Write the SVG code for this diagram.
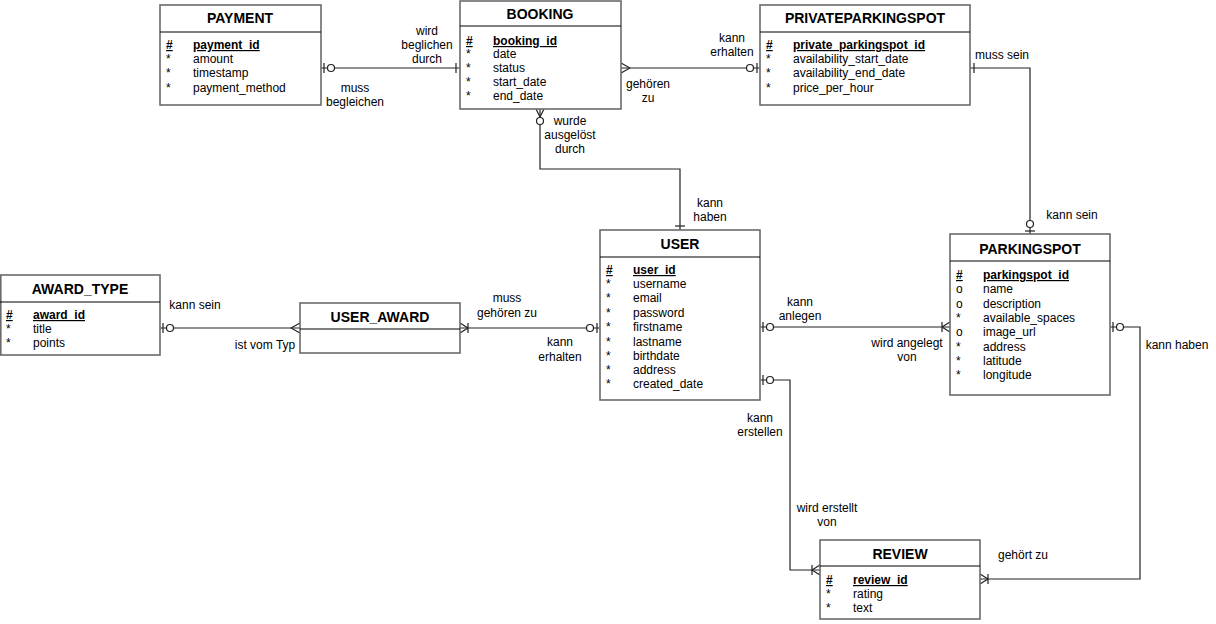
<svg xmlns="http://www.w3.org/2000/svg" width="1216" height="624" viewBox="0 0 1216 624">
<style>
.box{fill:#fff;stroke:#6b6b6b;stroke-width:1.6}
.sep{stroke:#000;stroke-width:1}
.title{font-family:"Liberation Sans",Arial,sans-serif;font-size:14px;font-weight:bold;text-anchor:middle;fill:#000}
.attr{font-family:"Liberation Sans",Arial,sans-serif;font-size:12px;fill:#000}
.pk{font-weight:bold;text-decoration:underline}
.lbl{font-family:"Liberation Sans",Arial,sans-serif;font-size:12px;text-anchor:middle;fill:#000}
.conn{fill:none;stroke:#222;stroke-width:1.2}
.mk{fill:none;stroke:#222;stroke-width:1.2}
.mkc{fill:#fff;stroke:#222;stroke-width:1.2}
</style>
<defs>
<marker id="oneOpt" markerUnits="userSpaceOnUse" markerWidth="1" markerHeight="1" refX="0" refY="0" orient="auto-start-reverse" overflow="visible"><path class="mk" d="M-3,-5V5"/><circle class="mkc" cx="-10" cy="0" r="3.5"/></marker>
<marker id="one" markerUnits="userSpaceOnUse" markerWidth="1" markerHeight="1" refX="0" refY="0" orient="auto-start-reverse" overflow="visible"><path class="mk" d="M-4,-5V5"/></marker>
<marker id="many" markerUnits="userSpaceOnUse" markerWidth="1" markerHeight="1" refX="0" refY="0" orient="auto-start-reverse" overflow="visible"><path class="mk" d="M-9,0L0,-5M-9,0L0,5"/></marker>
<marker id="oneMany" markerUnits="userSpaceOnUse" markerWidth="1" markerHeight="1" refX="0" refY="0" orient="auto-start-reverse" overflow="visible"><path class="mk" d="M-8,0L0,-5M-8,0L0,5M-8,-5V5"/></marker>
<marker id="zeroMany" markerUnits="userSpaceOnUse" markerWidth="1" markerHeight="1" refX="0" refY="0" orient="auto-start-reverse" overflow="visible"><path class="mk" d="M-8,0L0,-4M-8,0L0,4"/><circle class="mkc" cx="-12" cy="0" r="3.5"/></marker>
</defs>
<rect width="1216" height="624" fill="#fff"/>

<g id="connectors">
<path class="conn" d="M321,68H460" marker-start="url(#oneOpt)" marker-end="url(#one)"/>
<path class="conn" d="M621,68H760" marker-start="url(#many)" marker-end="url(#oneOpt)"/>
<path class="conn" d="M540,109V169H680V230" marker-start="url(#zeroMany)" marker-end="url(#one)"/>
<path class="conn" d="M970,68H1030V234" marker-start="url(#one)" marker-end="url(#oneOpt)"/>
<path class="conn" d="M160,328H300" marker-start="url(#oneOpt)" marker-end="url(#many)"/>
<path class="conn" d="M460,328H600" marker-start="url(#oneMany)" marker-end="url(#oneOpt)"/>
<path class="conn" d="M760,327H950" marker-start="url(#oneOpt)" marker-end="url(#oneMany)"/>
<path class="conn" d="M760,380H790V570H820" marker-start="url(#oneOpt)" marker-end="url(#oneMany)"/>
<path class="conn" d="M1110,327H1140V579H980" marker-start="url(#oneOpt)" marker-end="url(#oneMany)"/>
</g>

<g id="labels">
<text class="lbl" x="427" y="35">wird</text><text class="lbl" x="427" y="49">beglichen</text><text class="lbl" x="427" y="63">durch</text>
<text class="lbl" x="355" y="92">muss</text><text class="lbl" x="355" y="106">begleichen</text>
<text class="lbl" x="732" y="42">kann</text><text class="lbl" x="732" y="56">erhalten</text>
<text class="lbl" x="648" y="88">gehören</text><text class="lbl" x="648" y="102">zu</text>
<text class="lbl" x="1002" y="59">muss sein</text>
<text class="lbl" x="570" y="125">wurde</text><text class="lbl" x="570" y="139">ausgelöst</text><text class="lbl" x="570" y="153">durch</text>
<text class="lbl" x="710" y="207">kann</text><text class="lbl" x="710" y="221">haben</text>
<text class="lbl" x="1072" y="219">kann sein</text>
<text class="lbl" x="195" y="309">kann sein</text>
<text class="lbl" x="265" y="349">ist vom Typ</text>
<text class="lbl" x="507" y="302">muss</text><text class="lbl" x="507" y="317">gehören zu</text>
<text class="lbl" x="560" y="346">kann</text><text class="lbl" x="560" y="361">erhalten</text>
<text class="lbl" x="800" y="306">kann</text><text class="lbl" x="800" y="320">anlegen</text>
<text class="lbl" x="907" y="347">wird angelegt</text><text class="lbl" x="907" y="361">von</text>
<text class="lbl" x="1177" y="349">kann haben</text>
<text class="lbl" x="760" y="422">kann</text><text class="lbl" x="760" y="436">erstellen</text>
<text class="lbl" x="827" y="512">wird erstellt</text><text class="lbl" x="827" y="526">von</text>
<text class="lbl" x="1023" y="559">gehört zu</text>
</g>

<g id="payment">
<rect class="box" x="160" y="5" width="161" height="100"/>
<line class="sep" x1="160" y1="32" x2="321" y2="32"/>
<text class="title" x="240" y="23">PAYMENT</text>
<text class="attr pk" x="166" y="49">#</text><text class="attr pk" x="193" y="49">payment_id</text>
<text class="attr" x="166" y="63">*</text><text class="attr" x="193" y="63">amount</text>
<text class="attr" x="166" y="77">*</text><text class="attr" x="193" y="77">timestamp</text>
<text class="attr" x="166" y="92">*</text><text class="attr" x="193" y="92">payment_method</text>
</g>

<g id="booking">
<rect class="box" x="460" y="1" width="161" height="108"/>
<line class="sep" x1="460" y1="26" x2="621" y2="26"/>
<text class="title" x="540" y="19">BOOKING</text>
<text class="attr pk" x="466" y="45">#</text><text class="attr pk" x="493" y="45">booking_id</text>
<text class="attr" x="466" y="58">*</text><text class="attr" x="493" y="58">date</text>
<text class="attr" x="466" y="72">*</text><text class="attr" x="493" y="72">status</text>
<text class="attr" x="466" y="86">*</text><text class="attr" x="493" y="86">start_date</text>
<text class="attr" x="466" y="100">*</text><text class="attr" x="493" y="100">end_date</text>
</g>

<g id="privateparkingspot">
<rect class="box" x="760" y="5" width="210" height="100"/>
<line class="sep" x1="760" y1="32" x2="970" y2="32"/>
<text class="title" x="865" y="23">PRIVATEPARKINGSPOT</text>
<text class="attr pk" x="766" y="49">#</text><text class="attr pk" x="793" y="49">private_parkingspot_id</text>
<text class="attr" x="766" y="63">*</text><text class="attr" x="793" y="63">availability_start_date</text>
<text class="attr" x="766" y="77">*</text><text class="attr" x="793" y="77">availability_end_date</text>
<text class="attr" x="766" y="92">*</text><text class="attr" x="793" y="92">price_per_hour</text>
</g>

<g id="user">
<rect class="box" x="600" y="230" width="160" height="170"/>
<line class="sep" x1="600" y1="257" x2="760" y2="257"/>
<text class="title" x="680" y="249">USER</text>
<text class="attr pk" x="606" y="274">#</text><text class="attr pk" x="633" y="274">user_id</text>
<text class="attr" x="606" y="288">*</text><text class="attr" x="633" y="288">username</text>
<text class="attr" x="606" y="302">*</text><text class="attr" x="633" y="302">email</text>
<text class="attr" x="606" y="317">*</text><text class="attr" x="633" y="317">password</text>
<text class="attr" x="606" y="331">*</text><text class="attr" x="633" y="331">firstname</text>
<text class="attr" x="606" y="346">*</text><text class="attr" x="633" y="346">lastname</text>
<text class="attr" x="606" y="360">*</text><text class="attr" x="633" y="360">birthdate</text>
<text class="attr" x="606" y="374">*</text><text class="attr" x="633" y="374">address</text>
<text class="attr" x="606" y="388">*</text><text class="attr" x="633" y="388">created_date</text>
</g>

<g id="parkingspot">
<rect class="box" x="950" y="234" width="160" height="161"/>
<line class="sep" x1="950" y1="261" x2="1110" y2="261"/>
<text class="title" x="1030" y="254">PARKINGSPOT</text>
<text class="attr pk" x="956" y="279">#</text><text class="attr pk" x="983" y="279">parkingspot_id</text>
<text class="attr" x="956" y="293">o</text><text class="attr" x="983" y="293">name</text>
<text class="attr" x="956" y="308">o</text><text class="attr" x="983" y="308">description</text>
<text class="attr" x="956" y="322">*</text><text class="attr" x="983" y="322">available_spaces</text>
<text class="attr" x="956" y="336">o</text><text class="attr" x="983" y="336">image_url</text>
<text class="attr" x="956" y="351">*</text><text class="attr" x="983" y="351">address</text>
<text class="attr" x="956" y="365">*</text><text class="attr" x="983" y="365">latitude</text>
<text class="attr" x="956" y="379">*</text><text class="attr" x="983" y="379">longitude</text>
</g>

<g id="award_type">
<rect class="box" x="0.8" y="275" width="159.2" height="80"/>
<line class="sep" x1="0" y1="302" x2="160" y2="302"/>
<text class="title" x="80" y="294">AWARD_TYPE</text>
<text class="attr pk" x="6" y="319">#</text><text class="attr pk" x="33" y="319">award_id</text>
<text class="attr" x="6" y="333">*</text><text class="attr" x="33" y="333">title</text>
<text class="attr" x="6" y="347">*</text><text class="attr" x="33" y="347">points</text>
</g>

<g id="user_award">
<rect class="box" x="300" y="303" width="160" height="50"/>
<line class="sep" x1="300" y1="329" x2="460" y2="329"/>
<text class="title" x="380" y="322">USER_AWARD</text>
</g>

<g id="review">
<rect class="box" x="820" y="540" width="160" height="79"/>
<line class="sep" x1="820" y1="566" x2="980" y2="566"/>
<text class="title" x="900" y="559">REVIEW</text>
<text class="attr pk" x="826" y="584">#</text><text class="attr pk" x="853" y="584">review_id</text>
<text class="attr" x="826" y="598">*</text><text class="attr" x="853" y="598">rating</text>
<text class="attr" x="826" y="612">*</text><text class="attr" x="853" y="612">text</text>
</g>
</svg>
